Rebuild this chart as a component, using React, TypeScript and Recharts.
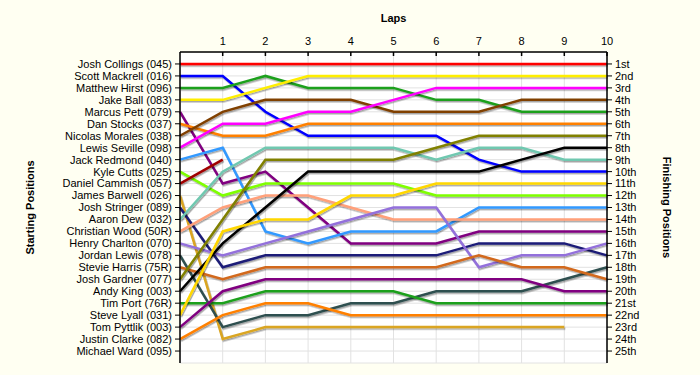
import { CartesianGrid, Line, LineChart, XAxis, YAxis } from "recharts";

const laps = [0, 1, 2, 3, 4, 5, 6, 7, 8, 9, 10];
const lapTicks = [1, 2, 3, 4, 5, 6, 7, 8, 9, 10];
const positionTicks = [1, 2, 3, 4, 5, 6, 7, 8, 9, 10, 11, 12, 13, 14, 15, 16, 17, 18, 19, 20, 21, 22, 23, 24, 25];

const drivers = [
  "Josh Collings (045)",
  "Scott Mackrell (016)",
  "Matthew Hirst (096)",
  "Jake Ball (083)",
  "Marcus Pett (079)",
  "Dan Stocks (037)",
  "Nicolas Morales (038)",
  "Lewis Seville (098)",
  "Jack Redmond (040)",
  "Kyle Cutts (025)",
  "Daniel Cammish (057)",
  "James Barwell (026)",
  "Josh Stringer (089)",
  "Aaron Dew (032)",
  "Christian Wood (50R)",
  "Henry Charlton (070)",
  "Jordan Lewis (078)",
  "Stevie Harris (75R)",
  "Josh Gardner (077)",
  "Andy King (003)",
  "Tim Port (76R)",
  "Steve Lyall (031)",
  "Tom Pyttlik (003)",
  "Justin Clarke (082)",
  "Michael Ward (095)"
];

const finishLabels = [
  "1st", "2nd", "3rd", "4th", "5th", "6th", "7th", "8th", "9th", "10th",
  "11th", "12th", "13th", "14th", "15th", "16th", "17th", "18th", "19th", "20th",
  "21st", "22nd", "23rd", "24th", "25th"
];

const colors = [
  "#ff0000", "#0000ff", "#1fa01f", "#ffee00", "#800080",
  "#ff8000", "#804000", "#ff00ff", "#3399ff", "#7fff00",
  "#a00000", "#daa520", "#1e1e78", "#70c8b0", "#ffa07a",
  "#9370db", "#2f4f4f", "#d2691e", "#808000", "#000000",
  "#1fa01f", "#ffd700", "#800080", "#ff8000", "#808080"
];

// position per lap (lap 0 = grid)
const collings = [1, 1, 1, 1, 1, 1, 1, 1, 1, 1, 1];
const mackrell = [2, 2, 5, 7, 7, 7, 7, 9, 10, 10, 10];
const hirst = [3, 3, 2, 3, 3, 3, 4, 4, 5, 5, 5];
const ball = [4, 4, 3, 2, 2, 2, 2, 2, 2, 2, 2];
const pett = [5, 11, 10, 13, 16, 16, 16, 15, 15, 15, 15];
const stocks = [6, 7, 7, 6, 6, 6, 6, 6, 6, 6, 6];
const morales = [7, 5, 4, 4, 4, 5, 5, 5, 4, 4, 4];
const seville = [8, 6, 6, 5, 5, 4, 3, 3, 3, 3, 3];
const redmond = [9, 8, 15, 16, 15, 15, 15, 13, 13, 13, 13];
const cutts = [10, 12, 11, 11, 11, 11, 12, 12, 12, 12, 12];
const cammish = [11, 9, null, null, null, null, null, null, null, null, null];
const barwell = [12, 24, 23, 23, 23, 23, 23, 23, 23, 23, null];
const stringer = [13, 18, 17, 17, 17, 17, 17, 16, 16, 16, 17];
const dew = [14, 10, 8, 8, 8, 8, 9, 8, 8, 9, 9];
const wood = [15, 13, 12, 12, 13, 14, 14, 14, 14, 14, 14];
const charlton = [16, 17, 16, 15, 14, 13, 13, 18, 17, 17, 16];
const lewis = [17, 23, 22, 22, 21, 21, 20, 20, 20, 19, 18];
const harris = [18, 19, 18, 18, 18, 18, 18, 17, 18, 18, 19];
const gardner = [19, 14, 9, 9, 9, 9, 8, 7, 7, 7, 7];
const king = [20, 16, 13, 10, 10, 10, 10, 10, 9, 8, 8];
const port = [21, 21, 20, 20, 20, 20, 21, 21, 21, 21, 21];
const lyall = [22, 15, 14, 14, 12, 12, 11, 11, 11, 11, 11];
const pyttlik = [23, 20, 19, 19, 19, 19, 19, 19, 19, 20, 20];
const clarke = [24, 22, 21, 21, 22, 22, 22, 22, 22, 22, 22];
const ward = [null, null, null, null, null, null, null, null, null, null, null];

const positions = [
  collings, mackrell, hirst, ball, pett, stocks, morales, seville, redmond, cutts,
  cammish, barwell, stringer, dew, wood, charlton, lewis, harris, gardner, king,
  port, lyall, pyttlik, clarke, ward
];

const rows = laps.map((lap, i) => {
  const row: Record<string, number | null> = { lap };
  positions.forEach((s, d) => {
    row["d" + d] = s[i];
  });
  return row;
});

const FONT = "Arial, 'Liberation Sans', sans-serif";
const TICK_GAP = 7;

const TopTick = (props: any) => {
  const { x, y, payload } = props;
  return (
    <g>
      <line x1={x} x2={x} y1={y + TICK_GAP} y2={y + TICK_GAP + 4} stroke="#000" strokeWidth={1.5} />
      <text x={x} y={y} textAnchor="middle" fill="#000" fontSize={11} fontFamily={FONT}>
        {payload.value}
      </text>
    </g>
  );
};

export default function App() {
  return (
    <div style={{ position: "absolute", left: 0, top: 0, width: 700, height: 375, background: "#fffff2" }}>
      <svg width={0} height={0} style={{ position: "absolute" }}>
        <defs>
          <filter id="lineShadow" filterUnits="userSpaceOnUse" x={0} y={0} width={700} height={375}>
            <feDropShadow dx={1} dy={1.5} stdDeviation={0.6} floodColor="#000" floodOpacity={0.35} />
          </filter>
        </defs>
      </svg>
      <LineChart
        width={700}
        height={375}
        data={rows}
        margin={{ top: 30, right: 43, bottom: 12, left: 8 }}
        style={{ fontFamily: FONT }}
      >
        <CartesianGrid yAxisId="left" stroke="#e2e2e2" fill="#ffffff" />
        <XAxis
          dataKey="lap"
          type="number"
          orientation="top"
          domain={[0, 10]}
          ticks={lapTicks}
          height={22}
          tickSize={0}
          tickMargin={TICK_GAP}
          tick={<TopTick />}
          axisLine={{ stroke: "#000", strokeWidth: 1.5 }}
          tickLine={false}
        />
        <YAxis
          yAxisId="left"
          type="number"
          domain={[0, 26]}
          reversed
          ticks={positionTicks}
          interval={0}
          width={172}
          tickFormatter={(p: number) => drivers[p - 1]}
          tick={{ fill: "#000", fontSize: 11, fontFamily: FONT }}
          tickSize={5}
          tickMargin={3}
          axisLine={{ stroke: "#000", strokeWidth: 1.5 }}
          tickLine={{ stroke: "#000" }}
        />
        <YAxis
          yAxisId="right"
          orientation="right"
          type="number"
          domain={[0, 26]}
          reversed
          ticks={positionTicks}
          interval={0}
          width={50}
          tickFormatter={(p: number) => finishLabels[p - 1]}
          tick={{ fill: "#000", fontSize: 11, fontFamily: FONT }}
          tickSize={5}
          tickMargin={3}
          axisLine={{ stroke: "#000", strokeWidth: 1.5 }}
          tickLine={{ stroke: "#000" }}
        />
        {drivers.map((name, d) => (
          <Line
            key={name}
            yAxisId={d === 0 ? "right" : "left"}
            type="linear"
            dataKey={"d" + d}
            name={name}
            stroke={colors[d]}
            strokeWidth={2.5}
            dot={false}
            activeDot={false}
            filter="url(#lineShadow)"
            isAnimationActive={false}
          />
        ))}
      </LineChart>
      <svg
        width={700}
        height={375}
        style={{ position: "absolute", left: 0, top: 0, pointerEvents: "none" }}
        fontFamily={FONT}
        fontWeight="bold"
        fontSize={11}
        fill="#000"
      >
        <text x={393.5} y={22} textAnchor="middle">Laps</text>
        <text x={30} y={207.5} textAnchor="middle" dominantBaseline="central" transform="rotate(-90 30 207.5)">
          Starting Positions
        </text>
        <text x={667} y={207.5} textAnchor="middle" dominantBaseline="central" transform="rotate(90 667 207.5)">
          Finishing Positions
        </text>
      </svg>
    </div>
  );
}
